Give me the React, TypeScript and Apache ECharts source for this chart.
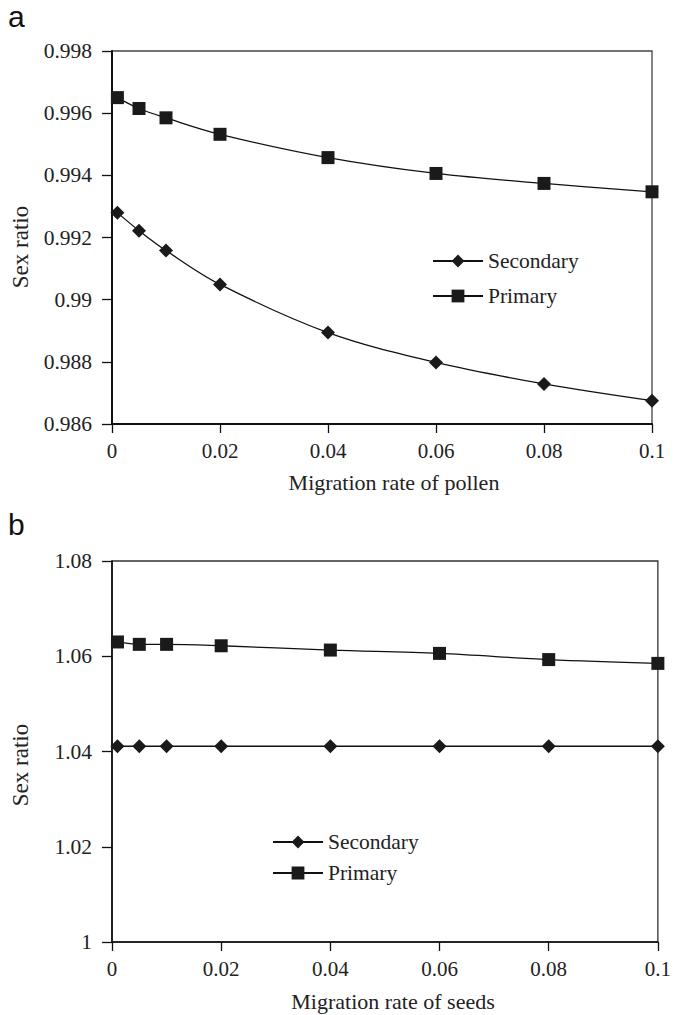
import React, { useEffect, useRef } from "react";
import * as echarts from "echarts";

// Migration rates at which the sex ratios were computed
const migrationRates = [0.001, 0.005, 0.01, 0.02, 0.04, 0.06, 0.08, 0.1];

// Panel a: pollen migration
const pollenSecondary = [0.9928, 0.99222, 0.99158, 0.99049, 0.98894, 0.98798, 0.98729, 0.98675];
const pollenPrimary = [0.9965, 0.99615, 0.99585, 0.99532, 0.99457, 0.99406, 0.99374, 0.99347];

// Panel b: seed migration
const seedsSecondary = [1.0411, 1.0411, 1.0411, 1.0411, 1.0411, 1.0411, 1.0411, 1.0411];
const seedsPrimary = [1.063, 1.0625, 1.0625, 1.0622, 1.0613, 1.0606, 1.0593, 1.0585];

const seriesNames = ["Secondary", "Primary"];
const panelLabels = ["a", "b"];
const xTitles = ["Migration rate of pollen", "Migration rate of seeds"];
const yTitle = "Sex ratio";

const SERIF = "'Liberation Serif', 'Times New Roman', serif";
const SANS = "'Liberation Sans', Arial, sans-serif";
const INK = "#222";

const pairs = (ys: number[]) => migrationRates.map((x, i) => [x, ys[i]]);
const fmt = (v: number) => String(parseFloat(v.toFixed(3)));

function xAxis(gridIndex: number, lw: number) {
  return {
    type: "value",
    gridIndex,
    min: 0,
    max: 0.1,
    interval: 0.02,
    axisLine: { show: true, lineStyle: { color: "#111", width: lw } },
    axisTick: { show: true, length: 9, lineStyle: { color: "#111", width: 1.3 } },
    axisLabel: { color: INK, fontFamily: SERIF, fontSize: 21, margin: 16, formatter: fmt },
    splitLine: { show: false },
  };
}

function yAxis(gridIndex: number, min: number, max: number, interval: number, lw: number) {
  return {
    type: "value",
    gridIndex,
    min,
    max,
    interval,
    axisLine: { show: true, lineStyle: { color: "#111", width: lw } },
    axisTick: { show: true, length: 10, lineStyle: { color: "#111", width: 1.3 } },
    axisLabel: { color: INK, fontFamily: SERIF, fontSize: 21.5, margin: 20, formatter: fmt },
    splitLine: { show: false },
  };
}

function lineSeries(name: string, idx: number, ys: number[], symbol: string, size: number) {
  return {
    type: "line",
    name,
    xAxisIndex: idx,
    yAxisIndex: idx,
    data: pairs(ys),
    smooth: 0.35,
    symbol,
    symbolSize: size,
    showSymbol: true,
    lineStyle: { color: "#111", width: 1.3 },
    itemStyle: { color: "#1a1a1a", borderWidth: 0 },
  };
}

function legend(left: number, top: number, gap: number) {
  return {
    orient: "vertical",
    left,
    top,
    itemWidth: 50,
    itemHeight: 16,
    itemGap: gap,
    selectedMode: false,
    data: seriesNames,
    textStyle: { color: INK, fontFamily: SERIF, fontSize: 21.5 },
  };
}

export default function App() {
  const ref = useRef<HTMLDivElement>(null);

  useEffect(() => {
    if (!ref.current) return;
    const chart = echarts.init(ref.current, undefined, { renderer: "svg" });

    const option = {
      animation: false,
      backgroundColor: "#fff",
      grid: [
        { left: 112, top: 51, width: 540, height: 373, show: true, borderColor: "#444", borderWidth: 1.3 },
        { left: 112, top: 561, width: 551, height: 381, show: true, borderColor: "#333", borderWidth: 1.3 },
      ],
      xAxis: [xAxis(0, 2), xAxis(1, 1.7)],
      yAxis: [yAxis(0, 0.986, 0.998, 0.002, 2), yAxis(1, 1, 1.08, 0.02, 1.7)],
      legend: [legend(427, 245, 13), legend(267, 826, 9)],
      series: [
        lineSeries(seriesNames[0], 0, pollenSecondary, "diamond", 14),
        lineSeries(seriesNames[1], 0, pollenPrimary, "rect", 13),
        lineSeries(seriesNames[0], 1, seedsSecondary, "diamond", 14),
        lineSeries(seriesNames[1], 1, seedsPrimary, "rect", 13),
      ],
      graphic: [
        {
          type: "text",
          left: 8,
          top: 1,
          style: { text: panelLabels[0], fontFamily: SANS, fontSize: 30, fill: "#111" },
        },
        {
          type: "text",
          left: 8,
          top: 509,
          style: { text: panelLabels[1], fontFamily: SANS, fontSize: 30, fill: "#111" },
        },
        {
          type: "text",
          x: 394,
          y: 482,
          style: { text: xTitles[0], fontFamily: SERIF, fontSize: 22, fill: INK, align: "center", verticalAlign: "middle" },
        },
        {
          type: "text",
          x: 393,
          y: 1001,
          style: { text: xTitles[1], fontFamily: SERIF, fontSize: 22, fill: INK, align: "center", verticalAlign: "middle" },
        },
        {
          type: "text",
          x: 20,
          y: 247,
          rotation: Math.PI / 2,
          style: { text: yTitle, fontFamily: SERIF, fontSize: 23, fill: INK, align: "center", verticalAlign: "middle" },
        },
        {
          type: "text",
          x: 20,
          y: 765,
          rotation: Math.PI / 2,
          style: { text: yTitle, fontFamily: SERIF, fontSize: 23, fill: INK, align: "center", verticalAlign: "middle" },
        },
      ],
    };

    chart.setOption(option as any);
    return () => chart.dispose();
  }, []);

  return (
    <div
      ref={ref}
      style={{ position: "absolute", left: 0, top: 0, width: 674, height: 1015, background: "#fff" }}
    />
  );
}
